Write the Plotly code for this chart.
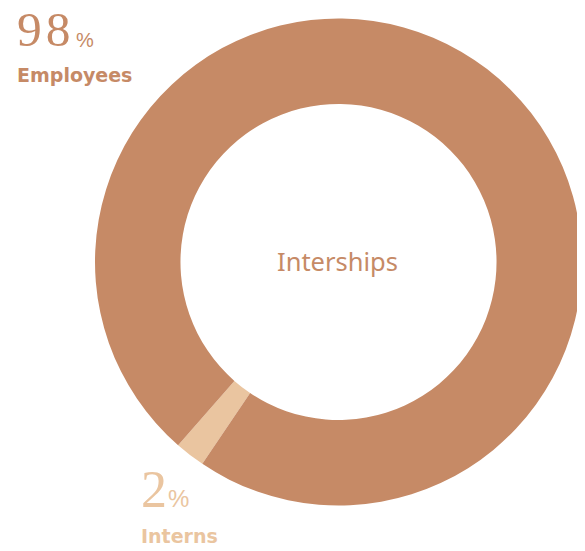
import plotly.graph_objects as go

labels = ["Interns", "Employees"]
values = [2, 98]
colors = ["#EAC5A0", "#C68A66"]
center_label = "Interships"

# page body has an 8px margin; work in reference pixels and shift
OFF = 8
W, H = 585 - OFF, 551 - OFF

def px(xref):
    return (xref - OFF) / W

def py(yref):
    return (H - (yref - OFF)) / H

cx, cy, R = 338.5, 262.0, 243.5

fig = go.Figure(go.Pie(
    labels=labels,
    values=values,
    hole=0.649,
    sort=False,
    direction="clockwise",
    rotation=214,
    marker=dict(colors=colors, line=dict(width=0)),
    textinfo="none",
    hoverinfo="label+percent",
    showlegend=False,
    domain=dict(x=[px(cx - R), px(cx + R)], y=[py(cy + R), py(cy - R)]),
))

annotations = []
num_font = "Liberation Serif"
lbl_font = "DejaVu Sans"
spec = {
    "Employees": dict(x=16, ynum=29.5, nsize=49.5, ls=4, xpct=74.5, ypct=39.5, psize=20,
                      ylbl=75, color=colors[1]),
    "Interns": dict(x=140, ynum=489, nsize=52, ls=0, xpct=167, ypct=498, psize=24,
                    ylbl=536, color=colors[0]),
}
for lab, val in zip(labels, values):
    s = spec[lab]
    txt = f"{val}" if s["ls"] == 0 else f"<span style='letter-spacing:{s['ls']}px'>{val}</span>"
    annotations.append(dict(
        x=px(s["x"]), y=py(s["ynum"]), xref="paper", yref="paper",
        xanchor="left", yanchor="middle", showarrow=False, borderpad=0,
        text=txt,
        font=dict(family=num_font, size=s["nsize"], color=s["color"]),
    ))
    annotations.append(dict(
        x=px(s["xpct"]), y=py(s["ypct"]), xref="paper", yref="paper",
        xanchor="left", yanchor="middle", showarrow=False, borderpad=0,
        text="%",
        font=dict(family="Liberation Sans", size=s["psize"], color=s["color"]),
    ))
    annotations.append(dict(
        x=px(s["x"]), y=py(s["ylbl"]), xref="paper", yref="paper",
        xanchor="left", yanchor="middle", showarrow=False, borderpad=0,
        text=lab,
        font=dict(family=lbl_font, size=19, color=s["color"], weight="bold"),
    ))

annotations.append(dict(
    x=px(337), y=py(261), xref="paper", yref="paper",
    xanchor="center", yanchor="middle", showarrow=False,
    text=center_label,
    font=dict(family="Noto Sans", size=25.5, color=colors[1]),
))

fig.update_layout(
    width=W, height=H,
    margin=dict(l=0, r=0, t=0, b=0),
    paper_bgcolor="white",
    plot_bgcolor="white",
    annotations=annotations,
)

fig.write_html("out.html")
